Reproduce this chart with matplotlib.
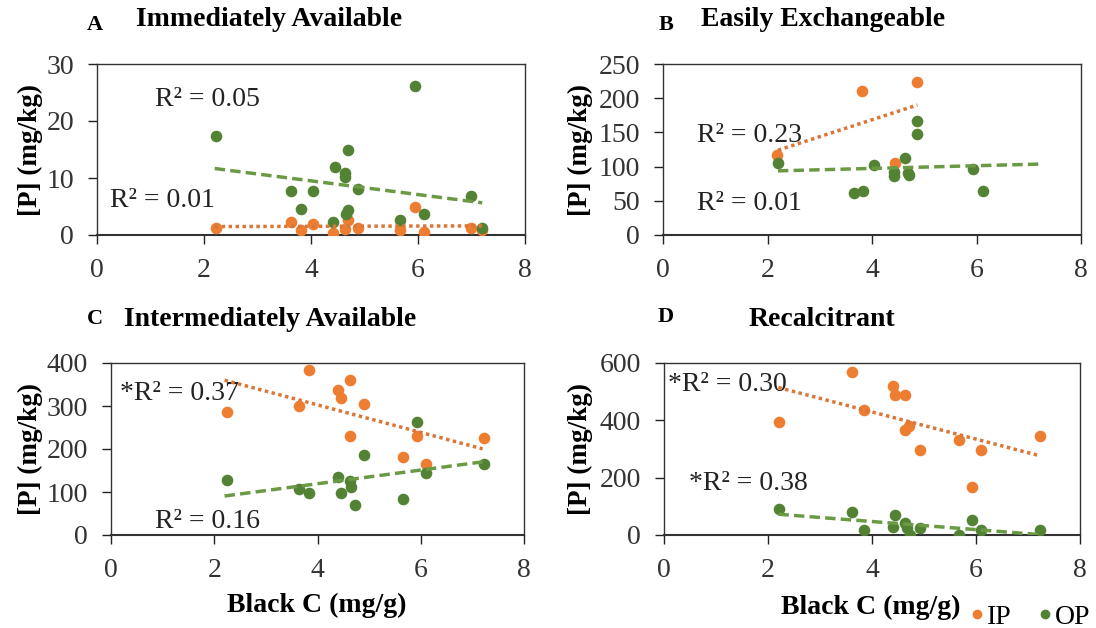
import numpy as np
import matplotlib
matplotlib.use("Agg")
import matplotlib.pyplot as plt

plt.rcParams['font.family'] = ['Liberation Serif', 'DejaVu Serif']

# Black C (mg/g) and [P] (mg/kg)
# A - Immediately Available
a_x_op = [2.23, 3.63, 4.04, 3.82, 4.44, 4.63, 4.63, 4.69, 4.88, 4.69, 4.65, 4.41, 5.66, 5.94, 6.11, 6.99, 7.20]
a_y_op = [17.4, 7.7, 7.7, 4.6, 11.9, 10.9, 10.1, 14.9, 8.1, 4.3, 3.6, 2.3, 2.6, 26.2, 3.6, 6.8, 1.2]
a_x_ip = [2.23, 3.63, 4.04, 3.82, 4.41, 4.63, 4.69, 4.88, 5.66, 5.94, 6.11, 6.99, 7.20]
a_y_ip = [1.2, 2.3, 1.9, 0.9, 0.4, 1.0, 2.6, 1.2, 0.9, 5.0, 0.6, 1.2, 0.9]

# B - Easily Exchangeable
b_x_ip = [2.19, 3.81, 4.44, 4.87]
b_y_ip = [117, 211, 105, 224]
b_x_op = [2.21, 3.66, 3.82, 4.03, 4.42, 4.42, 4.63, 4.68, 4.70, 4.87, 4.87, 5.93, 6.12]
b_y_op = [105, 61, 65, 102, 92, 86, 113, 91, 87, 167, 148, 97, 64]

# C - Intermediately Available
c_x_ip = [2.24, 3.64, 3.83, 4.39, 4.46, 4.63, 4.90, 4.63, 5.66, 5.92, 6.11, 7.22]
c_y_ip = [286, 299, 383, 338, 319, 360, 305, 231, 181, 231, 164, 226]
c_x_op = [2.24, 3.64, 3.83, 4.39, 4.46, 4.63, 4.65, 4.72, 4.90, 5.66, 5.92, 6.11, 7.22]
c_y_op = [129, 107, 98, 135, 98, 125, 112, 69, 185, 84, 263, 144, 166]

# D - Recalcitrant
d_x_ip = [2.21, 3.62, 3.85, 4.41, 4.44, 4.64, 4.64, 4.71, 4.92, 5.67, 5.93, 6.09, 7.23]
d_y_ip = [394, 567, 437, 521, 490, 490, 367, 381, 298, 333, 167, 298, 347]
d_x_op = [2.21, 3.62, 3.85, 4.44, 4.41, 4.64, 4.68, 4.74, 4.92, 5.67, 5.93, 6.09, 7.23]
d_y_op = [91, 80, 16, 71, 28, 42, 24, 1, 24, 1, 51, 19, 16]

letters = ['A', 'B', 'C', 'D']
titles = ['Immediately Available', 'Easily Exchangeable', 'Intermediately Available', 'Recalcitrant']
ymaxes = [30, 250, 400, 600]
ysteps = [10, 50, 100, 200]
r2_ip = ['R\u00b2 = 0.01', 'R\u00b2 = 0.23', '*R\u00b2 = 0.37', '*R\u00b2 = 0.30']
r2_op = ['R\u00b2 = 0.05', 'R\u00b2 = 0.01', 'R\u00b2 = 0.16', '*R\u00b2 = 0.38']

IP_COL = '#ED7D31'
OP_COL = '#548235'
FS = 20

fig = plt.figure(figsize=(10.96, 6.28), dpi=100)
W, H = 1096, 628

# axes boxes in pixels: left, right, top, bottom
boxes = [(97, 525, 64, 235), (663, 1081, 64, 235),
         (111, 524, 363, 535), (664, 1080, 363, 535)]

data = [(a_x_ip, a_y_ip, a_x_op, a_y_op),
        (b_x_ip, b_y_ip, b_x_op, b_y_op),
        (c_x_ip, c_y_ip, c_x_op, c_y_op),
        (d_x_ip, d_y_ip, d_x_op, d_y_op)]

# x extent of the trendlines
ip_span = [(2.2, 7.2), (2.2, 4.87), (2.2, 7.2), (2.2, 7.2)]
op_span = [(2.2, 7.2), (2.2, 7.2), (2.2, 7.2), (2.2, 7.2)]

# R2 label positions (data coords)
pos_ip = [(0.25, 6.1), (0.65, 145), (0.18, 330), (0.08, 524)]
pos_op = [(1.08, 23.7), (0.65, 46), (0.86, 32), (0.48, 181)]

title_pos = [((87, 30), (136, 26)), ((659, 30), (701, 26)),
             ((87, 324), (124, 326)), ((658, 322), (749, 326))]
ylab_x = [30, 580, 30, 580]

for i in range(4):
    l, r, t, b = boxes[i]
    ax = fig.add_axes([l / W, (H - b) / H, (r - l) / W, (b - t) / H])
    xi, yi, xo, yo = data[i]
    ax.scatter(xi, yi, s=70, color=IP_COL, zorder=3, linewidths=0)
    ax.scatter(xo, yo, s=70, color=OP_COL, zorder=3, linewidths=0)

    k, c0 = np.polyfit(xi, yi, 1)
    xs = np.array(ip_span[i])
    ax.plot(xs, k * xs + c0, color='#D9773A', lw=2.5, ls=(0, (1, 1)), zorder=4)
    k, c0 = np.polyfit(xo, yo, 1)
    xs = np.array(op_span[i])
    ax.plot(xs, k * xs + c0, color='#6B9A45', lw=2.5, ls=(0, (3, 1.5)), zorder=4)

    ax.set_xlim(0, 8)
    ax.set_ylim(0, ymaxes[i])
    ax.set_xticks(np.arange(0, 9, 2))
    ax.set_yticks(np.arange(0, ymaxes[i] + 1, ysteps[i]))
    ax.tick_params(labelsize=FS, length=6.5, width=1, direction='out', colors='#222222', labelcolor='#333333')
    ax.tick_params(axis='y', pad=10)
    ax.tick_params(axis='x', pad=10)
    for sp in ax.spines.values():
        sp.set_linewidth(1)
        sp.set_color('#333333')
    ax.spines['bottom'].set_linewidth(1.5)

    ax.text(pos_ip[i][0], pos_ip[i][1], r2_ip[i], fontsize=FS, va='center', ha='left', color='#222222')
    ax.text(pos_op[i][0], pos_op[i][1], r2_op[i], fontsize=FS, va='center', ha='left', color='#222222')

    (lx, ly), (tx, ty) = title_pos[i]
    fig.text(lx / W, 1 - ly / H, letters[i], fontsize=16, fontweight='bold', ha='left', va='baseline')
    fig.text(tx / W, 1 - ty / H, titles[i], fontsize=FS, fontweight='bold', ha='left', va='baseline')
    fig.text(ylab_x[i] / W, 1 - ((t + b) / 2) / H, '[P] (mg/kg)', fontsize=19.5, fontweight='bold',
             rotation=90, ha='center', va='center')

fig.text(317 / W, 1 - 605 / H, 'Black C (mg/g)', fontsize=FS, fontweight='bold', ha='center', va='center')
fig.text(871 / W, 1 - 607 / H, 'Black C (mg/g)', fontsize=FS, fontweight='bold', ha='center', va='center')

h1 = plt.Line2D([], [], marker='o', ls='', color=IP_COL, markersize=6)
h2 = plt.Line2D([], [], marker='o', ls='', color=OP_COL, markersize=6)
fig.legend([h1, h2], ['IP', 'OP'], loc='center right', bbox_to_anchor=(1090 / W, 1 - 617 / H), ncol=2,
           frameon=False, fontsize=FS, handletextpad=0.05, columnspacing=0.9, handlelength=0.6,
           borderpad=0, borderaxespad=0)

fig.savefig('out.png', dpi=100)
